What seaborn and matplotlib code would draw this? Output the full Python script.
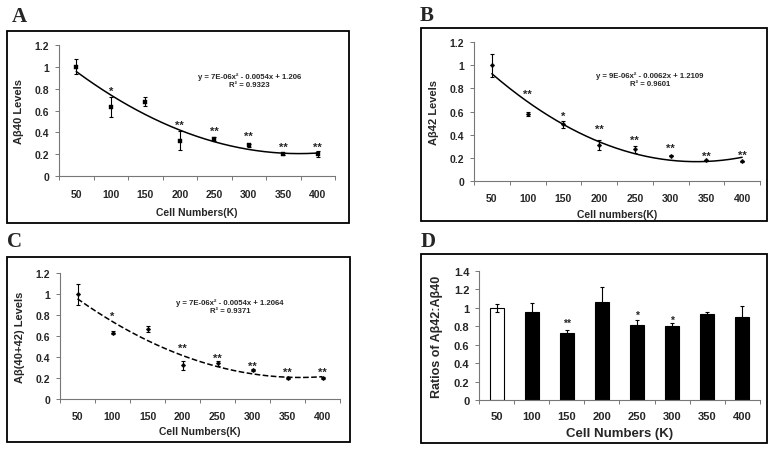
import numpy as np
import pandas as pd
import matplotlib.pyplot as plt
from matplotlib.patches import Rectangle
import seaborn as sns

# data
cells = [50, 100, 150, 200, 250, 300, 350, 400]
cell_labels = [str(c) for c in cells]

ab40 = [1.0, 0.635, 0.68, 0.325, 0.34, 0.28, 0.20, 0.20]
ab40_err = [0.07, 0.09, 0.04, 0.09, 0.015, 0.01, 0.01, 0.03]
ab40_sig = ['', '*', '', '**', '**', '**', '**', '**']
ab40_sig_y = [0, 0.78, 0, 0.47, 0.41, 0.365, 0.27, 0.27]

ab42 = [1.0, 0.58, 0.49, 0.31, 0.275, 0.22, 0.18, 0.17]
ab42_err = [0.1, 0.02, 0.03, 0.04, 0.03, 0.005, 0.005, 0.005]
ab42_sig = ['', '**', '*', '**', '**', '**', '**', '**']
ab42_sig_y = [0, 0.75, 0.56, 0.45, 0.355, 0.29, 0.22, 0.23]

ab_sum = [1.0, 0.63, 0.665, 0.32, 0.34, 0.275, 0.20, 0.20]
ab_sum_err = [0.1, 0.015, 0.03, 0.04, 0.025, 0.01, 0.005, 0.005]
ab_sum_sig = ['', '*', '', '**', '**', '**', '**', '**']
ab_sum_sig_y = [0, 0.79, 0, 0.49, 0.39, 0.32, 0.26, 0.26]

ratio = [1.0, 0.95, 0.73, 1.06, 0.81, 0.80, 0.93, 0.90]
ratio_err = [0.04, 0.10, 0.035, 0.17, 0.06, 0.04, 0.02, 0.12]
ratio_sig = ['', '', '**', '', '*', '*', '', '']
ratio_sig_y = [0, 0, 0.84, 0, 0.92, 0.87, 0, 0]

W, H = 774, 452

sns.set_style("ticks")
plt.rcParams['font.family'] = ['Liberation Sans', 'DejaVu Sans']
plt.rcParams['font.weight'] = 'bold'

fig = plt.figure(figsize=(W / 100, H / 100), dpi=100)
fig.patch.set_facecolor('white')


def px_axes(left, right, top, bottom):
    return fig.add_axes([left / W, 1 - bottom / H, (right - left) / W, (bottom - top) / H])


def box(left, right, top, bottom):
    fig.patches.append(Rectangle((left / W, 1 - bottom / H), (right - left) / W, (bottom - top) / H,
                                 transform=fig.transFigure, fill=False, edgecolor='black',
                                 linewidth=1.3))


def letter(x, y, s):
    fig.text(x / W, 1 - y / H, s, family='Liberation Serif', fontsize=15, weight='bold',
             ha='left', va='center')


def style_axes(ax, ymax, ystep, xlabel, ylabel, fs=7.5, xpad=4):
    ax.set_xlim(-0.5, 7.5)
    ax.set_ylim(0, ymax)
    ax.set_yticks(np.arange(0, ymax + 1e-9, ystep))
    ax.set_yticklabels([f'{v:g}' for v in np.arange(0, ymax + 1e-9, ystep)], fontsize=fs,
                       fontweight='bold')
    ax.set_xticks(range(8))
    ax.set_xticklabels(cell_labels, fontsize=fs, fontweight='bold')
    ax.set_xticks(np.arange(-0.5, 8, 1), minor=True)
    ax.tick_params(axis='x', which='major', length=0, pad=9)
    ax.tick_params(axis='x', which='minor', length=3, width=0.7, color='#777777', direction='out')
    ax.tick_params(axis='y', length=3, width=0.7, color='#777777', direction='out', pad=4)
    for side in ['top', 'right']:
        ax.spines[side].set_visible(False)
    for side in ['left', 'bottom']:
        ax.spines[side].set_color('#777777')
        ax.spines[side].set_linewidth(0.8)
    ax.set_xlabel(xlabel, fontsize=fs, fontweight='bold', labelpad=xpad)
    ax.set_ylabel(ylabel, fontsize=fs + 0.5, fontweight='bold', labelpad=8)
    ax.set_facecolor('white')


def trend_panel(ax, vals, errs, sig, sig_y, marker, msize, dash, eq, r2, eqx):
    pos = np.arange(len(cells))
    df = pd.DataFrame({'pos': pos, 'val': vals})
    ax.errorbar(pos, vals, yerr=errs, fmt='none', ecolor='black', elinewidth=0.8, capsize=1.5,
                capthick=0.8, zorder=2)
    sns.scatterplot(data=df, x='pos', y='val', marker=marker, s=msize, color='black',
                    edgecolor='black', ax=ax, zorder=3, legend=False)
    # quadratic trend line, fitted on the points like the spreadsheet did
    coef = np.polyfit(cells, vals, 2)
    xs = np.linspace(cells[0], cells[-1], 200)
    fit = pd.DataFrame({'pos': (xs - cells[0]) / 50.0, 'fit': np.polyval(coef, xs)})
    sns.lineplot(data=fit, x='pos', y='fit', color='black', linewidth=1.1, ax=ax,
                 linestyle='--' if dash else '-', zorder=2)
    for i, s in enumerate(sig):
        if s:
            ax.text(i, sig_y[i], s, ha='center', va='center', fontsize=8, fontweight='bold')
    ax.text(eqx, 0.765, eq, transform=ax.transAxes, ha='center', va='center', fontsize=5.6,
            fontweight='bold')
    ax.text(eqx, 0.70, r2, transform=ax.transAxes, ha='center', va='center', fontsize=5.6,
            fontweight='bold')


# panel A
box(7, 349, 32, 224)
letter(12, 17, 'A')
axA = px_axes(59, 335, 46, 177)
trend_panel(axA, ab40, ab40_err, ab40_sig, ab40_sig_y, 's', 12, False,
            'y = 7E-06x² - 0.0054x + 1.206', 'R² = 0.9323', 0.69)
style_axes(axA, 1.2, 0.2, 'Cell Numbers(K)', 'Aβ40 Levels', xpad=6)

# panel B
box(421, 767, 29, 222)
letter(420, 16, 'B')
axB = px_axes(474, 760, 43, 182)
trend_panel(axB, ab42, ab42_err, ab42_sig, ab42_sig_y, 'D', 6, False,
            'y = 9E-06x² - 0.0062x + 1.2109', 'R² = 0.9601', 0.615)
style_axes(axB, 1.2, 0.2, 'Cell numbers(K)', 'Aβ42 Levels', xpad=4)

# panel C
box(7, 350, 258, 443)
letter(7, 242, 'C')
axC = px_axes(60, 340, 274, 400)
trend_panel(axC, ab_sum, ab_sum_err, ab_sum_sig, ab_sum_sig_y, 'D', 6, True,
            'y = 7E-06x² - 0.0054x + 1.2064', 'R² = 0.9371', 0.607)
style_axes(axC, 1.2, 0.2, 'Cell Numbers(K)', 'Aβ(40+42) Levels', xpad=3)

# panel D
box(421, 767, 255, 444)
letter(421, 242, 'D')
axD = px_axes(479, 760, 272, 401)
dfD = pd.DataFrame({'cells': cell_labels, 'ratio': ratio})
sns.barplot(data=dfD, x='cells', y='ratio', hue='cells', legend=False,
            palette=['white'] + ['black'] * 7, edgecolor='black', linewidth=0.8,
            width=0.4, errorbar=None, ax=axD)
axD.errorbar(np.arange(8), ratio, yerr=ratio_err, fmt='none', ecolor='black',
             elinewidth=0.8, capsize=1.5, capthick=0.8, zorder=3)
for i, s in enumerate(ratio_sig):
    if s:
        axD.text(i, ratio_sig_y[i], s, ha='center', va='center', fontsize=7.5,
                 fontweight='bold')
style_axes(axD, 1.4, 0.2, 'Cell Numbers (K)', 'Ratios of Aβ42:Aβ40', fs=8, xpad=4)
axD.xaxis.label.set_size(9.5)
axD.yaxis.label.set_size(9)
axD.tick_params(axis='x', which='major', pad=8)

fig.savefig('out.png', dpi=100, facecolor='white')
